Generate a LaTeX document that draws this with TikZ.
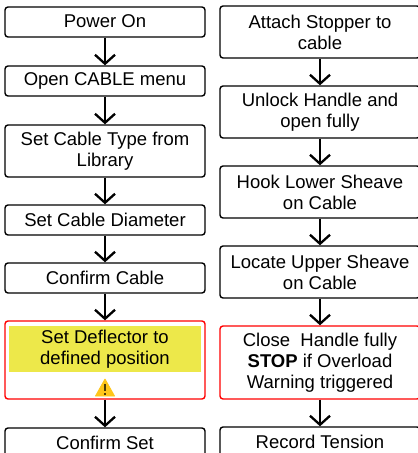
\documentclass[tikz,border=0pt]{standalone}
\usepackage{fontspec}
\setmainfont{Liberation Sans}
\usetikzlibrary{arrows.meta}
\definecolor{banner}{HTML}{EDE84A}
\definecolor{warn}{HTML}{FFC61A}
\tikzset{
  x=1pt,y=-1pt,
  flowbox/.style={draw=black,line width=1.4pt,rounded corners=3pt,fill=white,minimum width=200pt,inner sep=0pt,align=center,font=\fontsize{18.5}{21}\selectfont},
  alertbox/.style={flowbox,draw=red},
  link/.style={draw=black,line width=2.3pt,-{Straight Barb[length=9pt,width=20pt,line width=2.3pt]}},
  banner/.style={fill=banner,inner sep=0pt,minimum width=192pt,minimum height=46pt,align=center,font=\fontsize{18.5}{21}\selectfont},
}
\begin{document}
\begin{tikzpicture}
\useasboundingbox (0,0) rectangle (418,453);
\clip (0,0) rectangle (418,453);
\fill[white] (0,0) rectangle (418,453);
% left column
\node[flowbox,minimum height=30pt] (a1) at (105,22) {\raisebox{1pt}{Power On}};
\node[flowbox,minimum height=30pt] (a2) at (105,81) {\raisebox{1pt}{Open CABLE menu}};
\node[flowbox,minimum height=52pt] (a3) at (105,151) {Set Cable Type from\\Library};
\node[flowbox,minimum height=30pt] (a4) at (105,220) {\raisebox{1pt}{Set Cable Diameter}};
\node[flowbox,minimum height=30pt] (a5) at (105,278) {\raisebox{1pt}{Confirm Cable}};
\node[alertbox,minimum height=78pt] (a6) at (105,360) {};
\node[banner] (a6t) at (105,349) {Set Deflector to\\defined position};
\node[flowbox,minimum height=30pt] (a7) at (105,443) {\raisebox{1pt}{Confirm Set}};
\fill[warn,draw=warn,line width=0.8pt,line join=round] (105,379) -- (114.5,396) -- (95.5,396) -- cycle;
\fill[black!70!warn] (104,384) rectangle (106,391);
\fill[black!70!warn] (104,392.5) rectangle (106,394.5);
% right column
\node[flowbox,minimum height=52pt] (b1) at (320,32) {Attach Stopper to\\cable};
\node[flowbox,minimum height=52pt] (b2) at (320,112) {Unlock Handle and\\open fully};
\node[flowbox,minimum height=52pt] (b3) at (320,192) {Hook Lower Sheave\\on Cable};
\node[flowbox,minimum height=52pt] (b4) at (320,272) {Locate Upper Sheave\\on Cable};
\node[alertbox,minimum height=73pt] (b5) at (320,362.5) {Close\ \ Handle fully\\\textbf{STOP} if Overload\\Warning triggered};
\node[flowbox,minimum height=30pt] (b6) at (320,442) {\raisebox{1pt}{Record Tension}};
% connectors
\foreach \s/\t in {a1/a2,a2/a3,a3/a4,a4/a5,a5/a6,a6/a7,b1/b2,b2/b3,b3/b4,b4/b5,b5/b6}
  \draw[link] (\s.south) -- (\t.north);
\end{tikzpicture}
\end{document}
